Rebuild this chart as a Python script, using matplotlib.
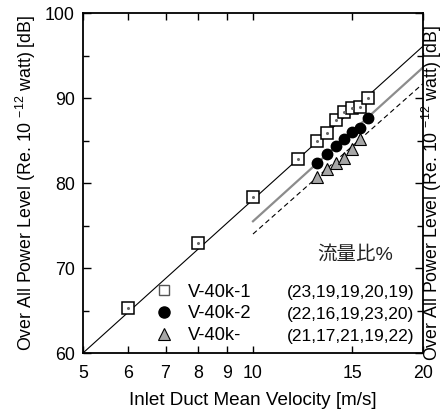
import numpy as np
import matplotlib
matplotlib.use("Agg")
import matplotlib.pyplot as plt
from matplotlib.ticker import FixedLocator, NullLocator, ScalarFormatter, MultipleLocator
from matplotlib.lines import Line2D

plt.rcParams['font.family'] = ['Liberation Sans', 'Noto Sans CJK JP', 'DejaVu Sans']
plt.rcParams['mathtext.default'] = 'regular'

# measured points
v1 = [6, 8, 10, 12, 13, 13.5, 14, 14.5, 15, 15.5, 16]
L1 = [65.3, 73.0, 78.3, 82.8, 85.0, 85.9, 87.4, 88.3, 88.8, 88.9, 90.0]
v2 = [13, 13.5, 14, 14.5, 15, 15.5, 16]
L2 = [82.4, 83.4, 84.3, 85.2, 86.0, 86.5, 87.6]
v3 = [13, 13.5, 14, 14.5, 15, 15.5]
L3 = [80.7, 81.7, 82.4, 83.0, 84.0, 85.2]

# fitted lines
fit1_v = [5, 20]
fit1_L = [60.0, 96.1]
fit2_v = [10, 20]
fit2_L = [75.5, 93.6]
fit3_v = [10, 20]
fit3_L = [74.0, 91.7]

names = ['V-40k-1', 'V-40k-2', 'V-40k-']
ratios = ['(23,19,19,20,19)', '(22,16,19,23,20)', '(21,17,21,19,22)']
xticks = [5, 6, 7, 8, 9, 10, 15, 20]

fig = plt.figure(figsize=(4.4, 4.16), dpi=100)
ax = fig.add_axes([0.1886, 0.1514, 0.7728, 0.8173])

ax.plot(fit1_v, fit1_L, color='black', lw=0.8)
ax.plot(fit2_v, fit2_L, color='#8c8c8c', lw=1.6)
ax.plot(fit3_v, fit3_L, color='black', lw=0.8, dashes=(4.5, 3))

ax.plot(v1, L1, ls='none', marker='s', ms=8.8, mfc='white', mec='black', mew=1.1)
ax.plot(v1, L1, ls='none', marker='o', ms=1.2, mfc='#666666', mec='#666666')
ax.plot(v2, L2, ls='none', marker='o', ms=7.5, mfc='black', mec='black')
ax.plot(v3, L3, ls='none', marker='^', ms=8, mfc='#a6a6a6', mec='black', mew=0.8)

ax.set_xscale('log')
ax.set_xlim(5, 20)
ax.set_ylim(60, 100)
ax.xaxis.set_major_locator(FixedLocator(xticks))
ax.xaxis.set_minor_locator(NullLocator())
ax.xaxis.set_major_formatter(ScalarFormatter())
ax.yaxis.set_major_locator(MultipleLocator(10))
ax.yaxis.set_minor_locator(MultipleLocator(5))

ax.tick_params(which='both', direction='in', top=True, right=True, labelsize=12.8, width=1)
ax.tick_params(which='major', length=6)
ax.tick_params(which='minor', length=4)
ax.tick_params(axis='x', which='major', length=5, pad=8.5)
ax.tick_params(axis='y', which='major', pad=6)
for s in ax.spines.values():
    s.set_linewidth(1.3)

ylab = r'Over All Power Level (Re. 10 $^{-12}$ watt) [dB]'
ax.set_xlabel('Inlet Duct Mean Velocity [m/s]', fontsize=13.6, labelpad=7)
ax.set_ylabel(ylab, fontsize=12.8, labelpad=5)
fig.text(432 / 440, 1 - 193 / 416, ylab, rotation=90, fontsize=12.8, ha='center', va='center')

handles = [
    Line2D([], [], ls='none', marker='s', ms=6.5, mfc='white', mec='#555555', mew=1.0),
    Line2D([], [], ls='none', marker='o', ms=8, mfc='black', mec='black'),
    Line2D([], [], ls='none', marker='^', ms=8.5, mfc='#a6a6a6', mec='black', mew=0.8),
]
ax.legend(handles, names, loc='lower left', bbox_to_anchor=(0.175, -0.012), frameon=False,
          fontsize=13.2, handlelength=1.0, handletextpad=0.8, labelspacing=0.26,
          borderaxespad=0.3)

for i, r in enumerate(ratios):
    ax.text(0.975, 0.178 - i * 0.064, r, transform=ax.transAxes, fontsize=12.5,
            ha='right', va='center')
ax.text(0.80, 0.29, '流量比%', transform=ax.transAxes, fontsize=14,
        ha='center', va='center', color='#222222')

fig.savefig('out.png', dpi=100)
